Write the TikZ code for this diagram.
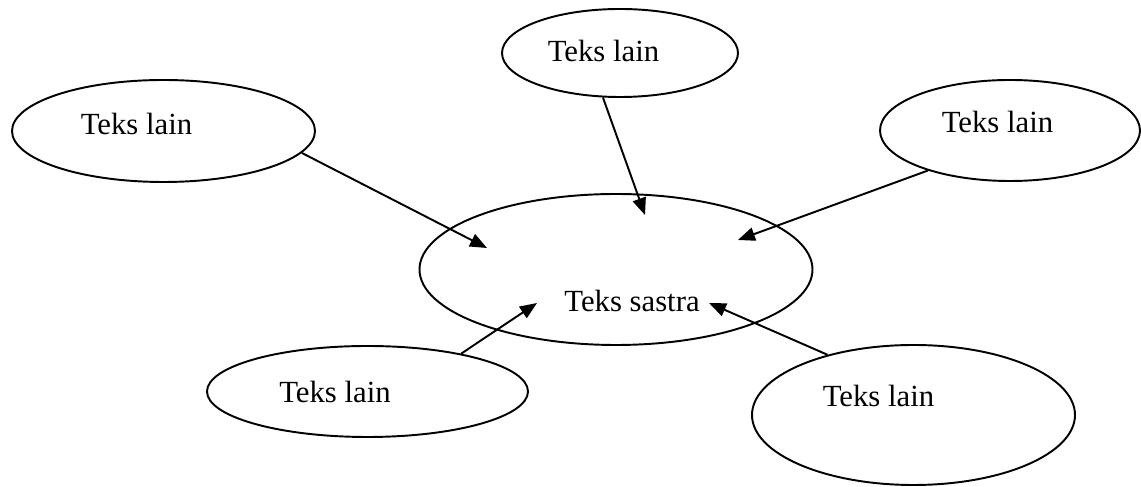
\documentclass[tikz,border=0pt]{standalone}
\usepackage{fontspec}
\setmainfont{Liberation Serif}
\usetikzlibrary{arrows.meta,shapes.geometric}
\tikzset{
  >={Triangle[length=3.4mm,width=2.7mm]},
  bubble/.style={ellipse,draw=black,line width=1.1pt,inner sep=0pt},
  word/.style={anchor=base,font=\fontsize{17.5}{21}\selectfont,inner sep=0pt},
  link/.style={->,line width=1.1pt},
}
\begin{document}
\begin{tikzpicture}
  \useasboundingbox (0,0) rectangle (22.82,-9.74);
  % ellipses
  \node[bubble,minimum width=7.86cm,minimum height=3.02cm] (sastra) at (12.32,-5.39) {};
  \node[bubble,minimum width=6.06cm,minimum height=2.04cm] (lainA) at (3.27,-2.62) {};
  \node[bubble,minimum width=4.72cm,minimum height=1.76cm] (lainB) at (12.40,-1.06) {};
  \node[bubble,minimum width=5.20cm,minimum height=2.02cm] (lainC) at (20.20,-2.61) {};
  \node[bubble,minimum width=6.42cm,minimum height=1.82cm] (lainD) at (7.35,-7.83) {};
  \node[bubble,minimum width=6.46cm,minimum height=2.80cm] (lainE) at (18.27,-8.30) {};
  % texts
  \node[word] (tsastra) at (12.64,-6.24) {Teks sastra};
  \foreach \n/\p in {A/{2.73,-2.70},B/{12.07,-1.24},C/{19.95,-2.66},D/{6.70,-8.06},E/{17.57,-8.14}}
    \node[word] (t\n) at (\p) {Teks lain};
  % arrow ends
  \coordinate (endA) at (9.74,-4.96);
  \coordinate (endB) at (12.90,-4.30);
  \coordinate (endC) at (14.76,-4.80);
  \coordinate (endD) at (10.74,-6.06);
  \coordinate (endE) at (14.18,-6.06);
  \foreach \n/\a in {A/-9,B/-111,C/-154,D/22,E/145}
    \draw[link] (lain\n.\a) -- (end\n);
\end{tikzpicture}
\end{document}
